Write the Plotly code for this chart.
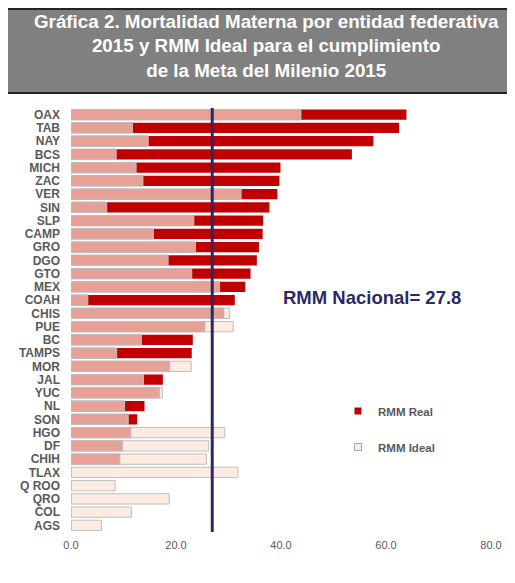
import numpy as np
import plotly.graph_objects as go

states = ["OAX", "TAB", "NAY", "BCS", "MICH", "ZAC", "VER", "SIN", "SLP", "CAMP",
          "GRO", "DGO", "GTO", "MEX", "COAH", "CHIS", "PUE", "BC", "TAMPS", "MOR",
          "JAL", "YUC", "NL", "SON", "HGO", "DF", "CHIH", "TLAX", "Q ROO", "QRO",
          "COL", "AGS"]
rmm_real = [63.9, 62.5, 57.6, 53.5, 39.9, 39.7, 39.3, 37.8, 36.6, 36.5,
            35.8, 35.4, 34.2, 33.2, 31.2, 29.1, 25.5, 23.2, 23.0, 18.8,
            17.5, 16.8, 14.0, 12.6, 11.4, 9.8, 9.3, 0.0, 0.0, 0.0,
            0.0, 0.0]
rmm_ideal = [43.8, 11.7, 14.7, 8.6, 12.4, 13.7, 32.4, 6.8, 23.4, 15.7,
             23.7, 18.5, 23.0, 28.3, 3.2, 30.2, 30.9, 13.4, 8.7, 22.9,
             13.8, 17.4, 10.2, 10.9, 29.3, 26.2, 25.8, 31.8, 8.4, 18.7,
             11.5, 5.8]
rmm_nacional_label = "27.8"
rmm_nacional_line = 26.9
x_ticks = [0, 20, 40, 60, 80]

overlap = np.minimum(np.array(rmm_real), np.array(rmm_ideal))

# the page places the figure 8px from the top-left of the window
OFF = 8
W, H = 515 - OFF, 583 - OFF
L, R, T, B = 71 - OFF, 24, 108 - OFF, 51
pw, ph = W - L - R, H - T - B


def px(x):  # window pixel -> paper x
    return (x - OFF - L) / pw


def py(y):  # window pixel -> paper y
    return (H - B - (y - OFF)) / ph


RED = "#C00000"
SALMON = "#E6A095"
CREAM = "#FBEBE1"
OUTLINE = "#BFBFBF"
NAVY = "#2B2868"
GRAY = "#595959"
FONT = "Liberation Sans, Arial, sans-serif"

fig = go.Figure()
fig.add_trace(go.Bar(y=states, x=rmm_ideal, orientation="h", name="RMM Ideal",
                     marker=dict(color=CREAM, line=dict(color=OUTLINE, width=1)),
                     width=0.78, showlegend=False))
fig.add_trace(go.Bar(y=states, x=rmm_real, orientation="h", name="RMM Real",
                     marker=dict(color=RED, line=dict(color=RED, width=0)),
                     width=0.78, showlegend=False))
fig.add_trace(go.Bar(y=states, x=overlap, orientation="h", name="overlap",
                     marker=dict(color=SALMON, line=dict(color=OUTLINE, width=1)),
                     width=0.78, showlegend=False))
# legend entries (small square symbols)
fig.add_trace(go.Scatter(x=[None], y=[None], mode="markers", name="RMM Real",
                         marker=dict(symbol="square", size=7, color=RED,
                                     line=dict(color=RED, width=0)),
                         legend="legend"))
fig.add_trace(go.Scatter(x=[None], y=[None], mode="markers", name="RMM Ideal",
                         marker=dict(symbol="square", size=7, color=CREAM,
                                     line=dict(color="#A6A6A6", width=1)),
                         legend="legend2"))

fig.update_layout(
    width=W, height=H,
    margin=dict(l=L, r=R, t=T, b=B, autoexpand=False),
    barmode="overlay",
    plot_bgcolor="white", paper_bgcolor="white",
    font=dict(family=FONT, color=GRAY, size=11),
    xaxis=dict(range=[0, 80], tickvals=x_ticks, tickformat=".1f",
               showgrid=False, zeroline=False, showline=False, automargin=False,
               ticklabelstandoff=5,
               tickfont=dict(size=11, color=GRAY), ticks=""),
    yaxis=dict(categoryorder="array", categoryarray=states, automargin=False,
               tickmode="array", tickvals=states, ticktext=states,
               range=[len(states) - 0.5, -0.5], showgrid=False, zeroline=False,
               showline=False, ticks="", ticklabelstandoff=10,
               tickfont=dict(size=12, color=GRAY, family=FONT, weight="bold")),
    legend=dict(x=px(338), y=py(411), xanchor="left", yanchor="middle",
                bgcolor="rgba(0,0,0,0)", font=dict(size=11.5, color=GRAY, weight="bold"),
                itemwidth=30),
    legend2=dict(x=px(338), y=py(447), xanchor="left", yanchor="middle",
                 bgcolor="rgba(0,0,0,0)", font=dict(size=11.5, color=GRAY, weight="bold"),
                 itemwidth=30),
    showlegend=True,
)

# title box
fig.add_shape(type="rect", xref="paper", yref="paper",
              x0=px(OFF), x1=px(515), y0=py(93), y1=py(OFF),
              fillcolor="#808080", line=dict(width=0), layer="below")
fig.add_shape(type="line", xref="paper", yref="paper",
              x0=px(OFF), x1=px(515), y0=py(OFF + 1), y1=py(OFF + 1),
              line=dict(color="#222222", width=2))
fig.add_shape(type="line", xref="paper", yref="paper",
              x0=px(OFF), x1=px(515), y0=py(93), y1=py(93),
              line=dict(color="#222222", width=2))
fig.add_annotation(xref="paper", yref="paper", x=px(266), y=py(46),
                   xanchor="center", yanchor="middle", showarrow=False,
                   text="Gráfica 2. Mortalidad Materna por entidad federativa<br>2015 y RMM Ideal para el cumplimiento<br>de la Meta del Milenio 2015",
                   font=dict(family=FONT, size=18.8, color="white", weight="bold"),
                   align="center")

# national line
fig.add_shape(type="line", xref="x", yref="paper", x0=rmm_nacional_line,
              x1=rmm_nacional_line, y0=0, y1=1,
              line=dict(color=NAVY, width=3))
fig.add_annotation(xref="paper", yref="paper", x=px(281), y=py(297),
                   xanchor="left", yanchor="middle", showarrow=False,
                   text="RMM Nacional= " + rmm_nacional_label,
                   font=dict(family=FONT, size=18.5, color=NAVY, weight="bold"))

fig.write_html("out.html")
